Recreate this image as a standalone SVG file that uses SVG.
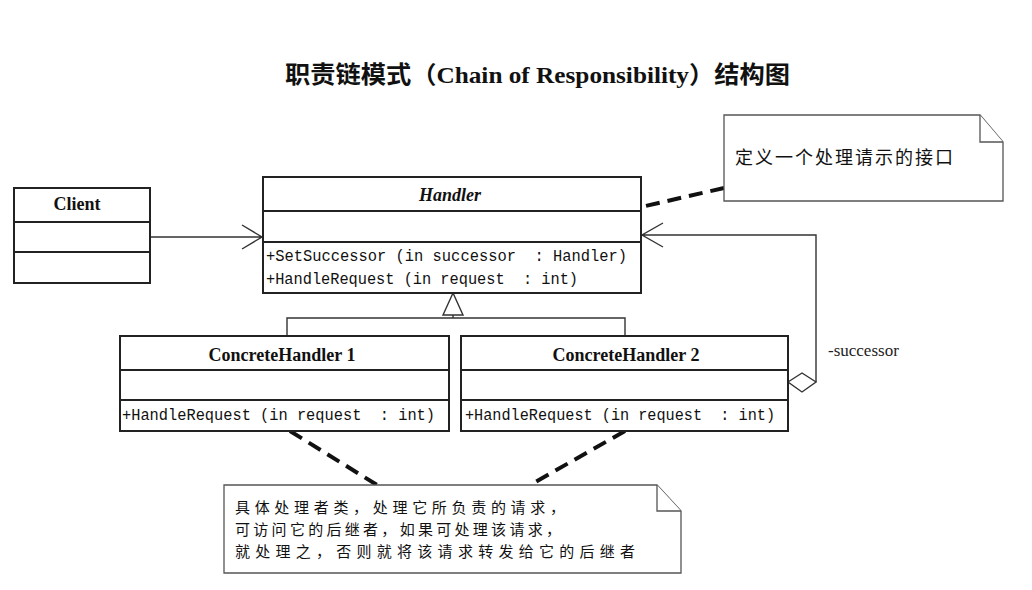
<svg xmlns="http://www.w3.org/2000/svg" width="1032" height="590" viewBox="0 0 1032 590">
<style>
.box{fill:#fff;stroke:#222;stroke-width:2}
.div{stroke:#222;stroke-width:2}
.cls{font-family:"Liberation Serif",serif;font-weight:bold;font-size:18px;fill:#111;text-anchor:middle}
.mth{font-family:"Liberation Mono",monospace;font-size:16px;fill:#111}
.ln{fill:none;stroke:#333;stroke-width:1.4}
.dash{fill:none;stroke:#111;stroke-width:4;stroke-dasharray:14 8}
.note{fill:#fff;stroke:#555;stroke-width:1.3}
.cjk{font-family:"Noto Sans CJK SC",sans-serif;font-size:18px;fill:#111}
.cjk2{font-family:"Noto Sans CJK SC",sans-serif;font-size:15px;fill:#111}
</style>
<rect width="1032" height="590" fill="#fff"/>
<text x="285" y="83" textLength="505" lengthAdjust="spacingAndGlyphs" style="font-family:'Liberation Serif','Noto Sans CJK SC',serif;font-weight:bold;font-size:24px;fill:#111"><tspan style="font-family:'Noto Sans CJK SC',sans-serif">职责链模式（</tspan>Chain of Responsibility<tspan style="font-family:'Noto Sans CJK SC',sans-serif">）结构图</tspan></text>

<g id="connectors">
  <path class="ln" d="M150,237 H262 M242,225 L262,237 L242,249"/>
  <path class="ln" d="M453,293 L443,315 H463 Z"/>
  <path class="ln" d="M453,315 V318 M287,336 V318 H625 V336"/>
  <path class="ln" d="M816,382 V235 H642 M663,223 L642,235 L663,247"/>
  <path class="ln" d="M788,382 L802,373 L816,382 L802,392 Z" fill="#fff"/>
  <path class="dash" d="M724,188 L641,207"/>
  <path class="dash" d="M290,431 L377,485"/>
  <path class="dash" d="M625,431 L530,485"/>
</g>

<g id="client">
  <rect class="box" x="14" y="188" width="136" height="95"/>
  <line class="div" x1="14" y1="222" x2="150" y2="222"/>
  <line class="div" x1="14" y1="252" x2="150" y2="252"/>
  <text class="cls" x="77" y="210">Client</text>
</g>

<g id="handler">
  <rect class="box" x="263" y="177" width="378" height="116"/>
  <line class="div" x1="263" y1="211" x2="641" y2="211"/>
  <line class="div" x1="263" y1="242" x2="641" y2="242"/>
  <text class="cls" x="450" y="201" font-style="italic">Handler</text>
  <text class="mth" x="266" y="261" textLength="361" lengthAdjust="spacingAndGlyphs" xml:space="preserve">+SetSuccessor (in successor  : Handler)</text>
  <text class="mth" x="266" y="284" textLength="312" lengthAdjust="spacingAndGlyphs" xml:space="preserve">+HandleRequest (in request  : int)</text>
</g>

<g id="concrete1">
  <rect class="box" x="120" y="336" width="329" height="95"/>
  <line class="div" x1="120" y1="370" x2="449" y2="370"/>
  <line class="div" x1="120" y1="400" x2="449" y2="400"/>
  <text class="cls" x="282" y="361">ConcreteHandler 1</text>
  <text class="mth" x="122" y="420" textLength="313" lengthAdjust="spacingAndGlyphs" xml:space="preserve">+HandleRequest (in request  : int)</text>
</g>

<g id="concrete2">
  <rect class="box" x="461" y="336" width="327" height="95"/>
  <line class="div" x1="461" y1="370" x2="788" y2="370"/>
  <line class="div" x1="461" y1="400" x2="788" y2="400"/>
  <text class="cls" x="626" y="361">ConcreteHandler 2</text>
  <text class="mth" x="465" y="420" textLength="310" lengthAdjust="spacingAndGlyphs" xml:space="preserve">+HandleRequest (in request  : int)</text>
</g>

<g id="successor-label">
  <text x="828" y="356" style="font-family:'Liberation Serif',serif;font-size:17px;fill:#222">-successor</text>
</g>

<g id="note1">
  <path class="note" d="M724,115 H980 L1003,142 V201 H724 Z"/>
  <path class="note" d="M980,115 V142 H1003"/>
  <text class="cjk" x="735" y="164" textLength="218" lengthAdjust="spacing">定义一个处理请示的接口</text>
</g>

<g id="note2">
  <path class="note" d="M224,485 H657 L681,511 V573 H224 Z"/>
  <path class="note" d="M657,485 V511 H681"/>
  <text class="cjk2" x="235" y="513" textLength="330" lengthAdjust="spacing">具体处理者类，处理它所负责的请求，</text>
  <text class="cjk2" x="235" y="535" textLength="326" lengthAdjust="spacing">可访问它的后继者，如果可处理该请求，</text>
  <text class="cjk2" x="235" y="557" textLength="400" lengthAdjust="spacing">就处理之，否则就将该请求转发给它的后继者</text>
</g>
</svg>
